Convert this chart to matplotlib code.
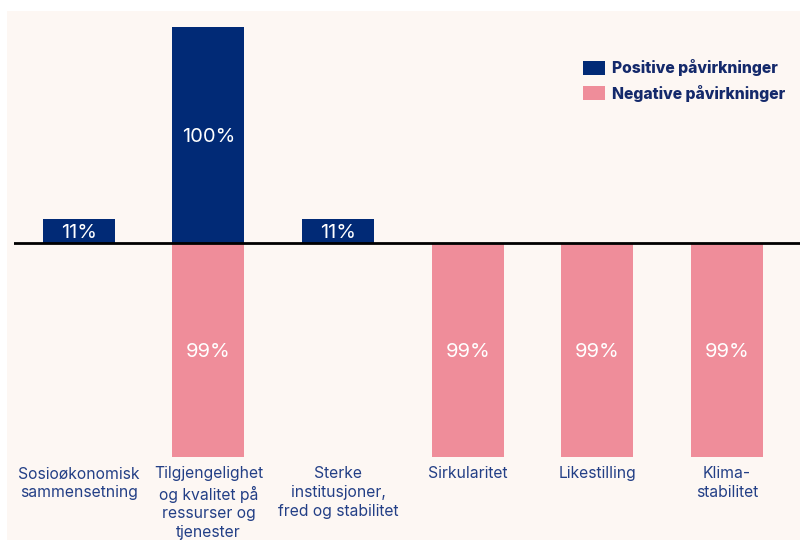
import matplotlib.pyplot as plt
import matplotlib.patches as patches

categories = ["Sosioøkonomisk\nsammensetning",
              "Tilgjengelighet\nog kvalitet på\nressurser og\ntjenester",
              "Sterke\ninstitusjoner,\nfred og stabilitet",
              "Sirkularitet",
              "Likestilling",
              "Klima-\nstabilitet"]
positive = [11, 100, 11, 0, 0, 0]
negative = [0, 99, 0, 99, 99, 99]

navy = "#012a76"
pink = "#ef8d9a"
bg = "#fdf7f3"
text_col = "#233f86"

W, H = 800, 540
fig = plt.figure(figsize=(8, 5.4), dpi=100)
fig.patch.set_facecolor("white")
fig.patches.append(patches.Rectangle((7 / W, 0), 1, 1 - 11 / H, transform=fig.transFigure,
                                     facecolor=bg, edgecolor="none", zorder=-10))

# axes in pixel layout: x 14..800, y 20..460 (from top)
ax = fig.add_axes([14 / W, (H - 460) / H, (800 - 14) / W, 440 / H])
ax.set_facecolor("none")
ax.set_xlim(-0.5, 5.563)
ax.set_ylim(-100.5, 103.2)
ax.axis("off")

x = list(range(len(categories)))
bw = 0.556
ax.bar(x, positive, width=bw, color=navy, zorder=2)
ax.bar(x, [-v for v in negative], width=bw, color=pink, zorder=2)
ax.axhline(0, color="black", lw=2, zorder=3)

font = "Inter"
for i in x:
    if positive[i]:
        ax.text(i, positive[i] / 2 - 0.8, f"{positive[i]}%", ha="center", va="center",
                color="white", fontsize=14.5, family=font, zorder=4)
    if negative[i]:
        ax.text(i, -negative[i] / 2 - 0.8, f"{negative[i]}%", ha="center", va="center",
                color="white", fontsize=14.5, family=font, zorder=4)
    ax.text(i, -103.5, categories[i], ha="center", va="top", color=text_col,
            fontsize=11.3, family=font, linespacing=1.3)

# legend
for j, (lab, col) in enumerate([("Positive påvirkninger", navy),
                                ("Negative påvirkninger", pink)]):
    y0 = 61 + j * 25
    fig.patches.append(patches.Rectangle((583 / W, 1 - (y0 + 14) / H), 22 / W, 14 / H,
                                         transform=fig.transFigure, facecolor=col,
                                         edgecolor="none"))
    fig.text(612 / W, 1 - (y0 + 7) / H, lab, ha="left", va="center", color="#14296b",
             fontsize=11.3, fontweight="heavy", family=font)

fig.savefig("out.png", dpi=100)
